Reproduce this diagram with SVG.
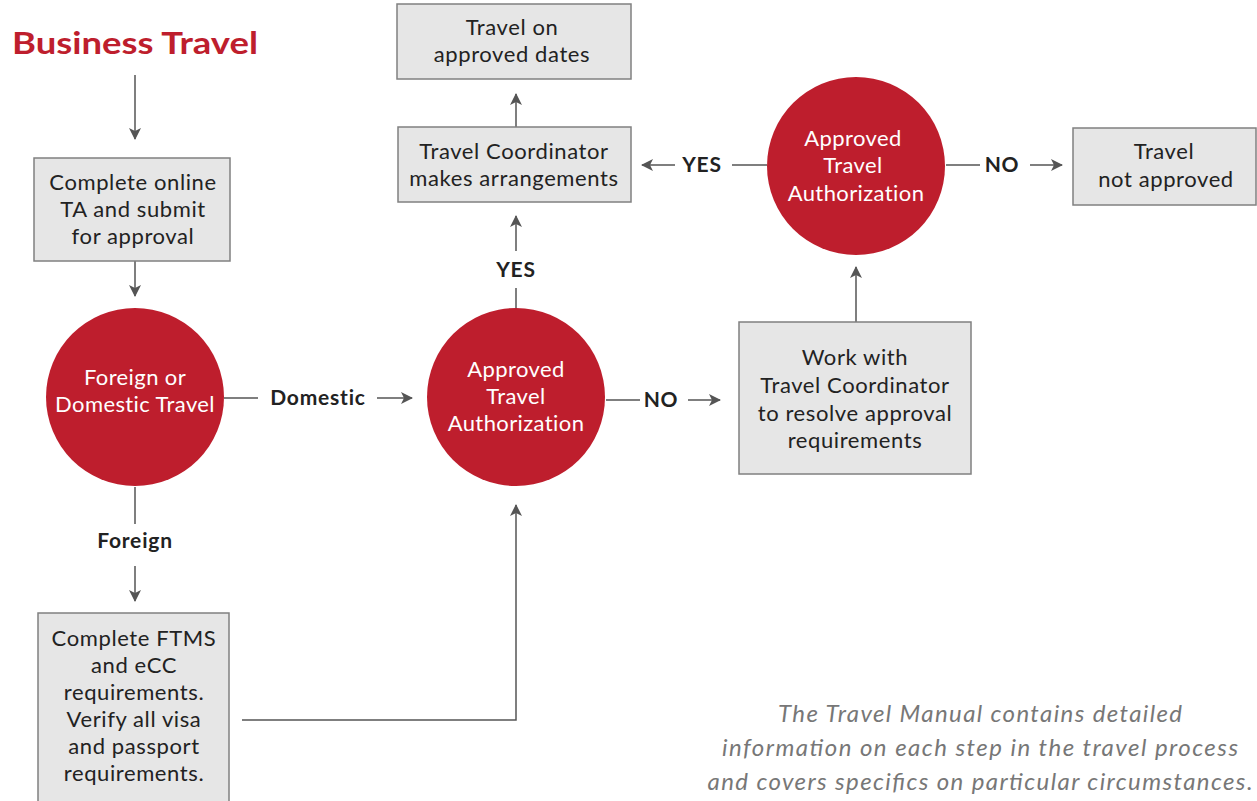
<svg xmlns="http://www.w3.org/2000/svg" width="1257" height="801" viewBox="0 0 1257 801">
<defs>
<marker id="ah" viewBox="0 0 12 12" refX="11" refY="6" markerWidth="12" markerHeight="12" markerUnits="userSpaceOnUse" orient="auto">
<path d="M0,0 L12,6 L0,12 L3,6 Z" fill="#555"/>
</marker>
</defs>
<style>
.box{fill:#e6e6e6;stroke:#808080;stroke-width:1.5}
.circ{fill:#be1e2d}
.bt{font-family:Lato,"Liberation Sans",sans-serif;font-size:22px;letter-spacing:0.6px;fill:#222;text-anchor:middle}
.ct{font-family:Lato,"Liberation Sans",sans-serif;font-size:22px;letter-spacing:0.4px;fill:#fff;text-anchor:middle}
.lbl{font-family:Lato,"Liberation Sans",sans-serif;font-size:21px;letter-spacing:0.8px;font-weight:bold;fill:#222;text-anchor:middle}
.ln{fill:none;stroke:#555;stroke-width:1.5}
.note{font-family:Lato,"Liberation Sans",sans-serif;font-size:24px;font-style:italic;fill:#777;text-anchor:middle}
</style>
<rect width="1257" height="801" fill="#fff"/>
<text id="title" x="12" y="54" font-family="Lato,'Liberation Sans',sans-serif" font-size="31" font-weight="bold" fill="#be1e2d" textLength="246" lengthAdjust="spacingAndGlyphs">Business Travel</text>

<g id="connectors">
<line class="ln" x1="135" y1="75" x2="135" y2="139" marker-end="url(#ah)"/>
<line class="ln" x1="135" y1="261" x2="135" y2="296" marker-end="url(#ah)"/>
<line class="ln" x1="224" y1="398" x2="258" y2="398"/>
<line class="ln" x1="377" y1="398" x2="412" y2="398" marker-end="url(#ah)"/>
<line class="ln" x1="135" y1="487" x2="135" y2="524"/>
<line class="ln" x1="135" y1="566" x2="135" y2="601" marker-end="url(#ah)"/>
<polyline class="ln" points="242,720 516,720 516,505" marker-end="url(#ah)"/>
<line class="ln" x1="606" y1="400" x2="640" y2="400"/>
<line class="ln" x1="688" y1="400" x2="720" y2="400" marker-end="url(#ah)"/>
<line class="ln" x1="856" y1="322" x2="856" y2="267" marker-end="url(#ah)"/>
<line class="ln" x1="516" y1="308" x2="516" y2="288"/>
<line class="ln" x1="516" y1="251" x2="516" y2="216" marker-end="url(#ah)"/>
<line class="ln" x1="516" y1="127" x2="516" y2="94" marker-end="url(#ah)"/>
<line class="ln" x1="767" y1="165" x2="732" y2="165"/>
<line class="ln" x1="675" y1="165" x2="642" y2="165" marker-end="url(#ah)"/>
<line class="ln" x1="946" y1="165" x2="980" y2="165"/>
<line class="ln" x1="1030" y1="165" x2="1062" y2="165" marker-end="url(#ah)"/>
<text class="lbl" x="318" y="405">Domestic</text>
<text class="lbl" x="661" y="407">NO</text>
<text class="lbl" x="135" y="548">Foreign</text>
<text class="lbl" x="516" y="277">YES</text>
<text class="lbl" x="702" y="172">YES</text>
<text class="lbl" x="1002" y="172">NO</text>
</g>

<g id="n-complete-ta">
<rect class="box" x="34" y="158" width="196" height="103"/>
<text class="bt" x="133" y="190">Complete online</text>
<text class="bt" x="133" y="217">TA and submit</text>
<text class="bt" x="133" y="244">for approval</text>
</g>

<g id="n-foreign-domestic">
<circle class="circ" cx="135" cy="397" r="89"/>
<text class="ct" x="135" y="385">Foreign or</text>
<text class="ct" x="135" y="412">Domestic Travel</text>
</g>

<g id="n-ftms">
<rect class="box" x="38" y="613" width="191" height="200"/>
<text class="bt" x="134" y="646">Complete FTMS</text>
<text class="bt" x="134" y="673">and eCC</text>
<text class="bt" x="134" y="700">requirements.</text>
<text class="bt" x="134" y="727">Verify all visa</text>
<text class="bt" x="134" y="754">and passport</text>
<text class="bt" x="134" y="781">requirements.</text>
</g>

<g id="n-approved-1">
<circle class="circ" cx="516" cy="397" r="89"/>
<text class="ct" x="516" y="377">Approved</text>
<text class="ct" x="516" y="404">Travel</text>
<text class="ct" x="516" y="431">Authorization</text>
</g>

<g id="n-work-with">
<rect class="box" x="739" y="322" width="232" height="152"/>
<text class="bt" x="855" y="365">Work with</text>
<text class="bt" x="855" y="393">Travel Coordinator</text>
<text class="bt" x="855" y="421">to resolve approval</text>
<text class="bt" x="855" y="448">requirements</text>
</g>

<g id="n-approved-2">
<circle class="circ" cx="856" cy="166" r="89"/>
<text class="ct" x="853" y="146">Approved</text>
<text class="ct" x="853" y="173">Travel</text>
<text class="ct" x="856" y="201">Authorization</text>
</g>

<g id="n-not-approved">
<rect class="box" x="1073" y="128" width="183" height="77"/>
<text class="bt" x="1164" y="159">Travel</text>
<text class="bt" x="1166" y="187">not approved</text>
</g>

<g id="n-coordinator">
<rect class="box" x="398" y="127" width="233" height="75"/>
<text class="bt" x="514" y="159">Travel Coordinator</text>
<text class="bt" x="514" y="186">makes arrangements</text>
</g>

<g id="n-travel-dates">
<rect class="box" x="397" y="4" width="234" height="75"/>
<text class="bt" x="512" y="35">Travel on</text>
<text class="bt" x="512" y="62">approved dates</text>
</g>

<g id="note">
<text class="note" x="980" y="722" textLength="404" lengthAdjust="spacing">The Travel Manual contains detailed</text>
<text class="note" x="980" y="756" textLength="516" lengthAdjust="spacing">information on each step in the travel process</text>
<text class="note" x="980" y="790" textLength="545" lengthAdjust="spacing">and covers specifics on particular circumstances.</text>
</g>
</svg>
